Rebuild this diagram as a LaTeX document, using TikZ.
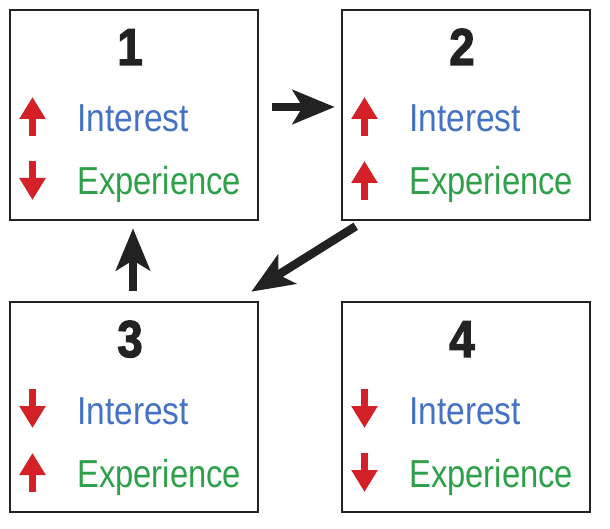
\documentclass[tikz,border=0pt]{standalone}
\usepackage{fontspec}
\setmainfont{Liberation Sans}
\newfontfamily\numfont[FakeBold=2.5]{Liberation Sans Bold}
\usetikzlibrary{arrows.meta}
\definecolor{intblue}{HTML}{4472C4}
\definecolor{expgreen}{HTML}{2EA04A}
\definecolor{arrred}{HTML}{D42027}
\definecolor{boxgray}{HTML}{222222}
\tikzset{
  panel/.style={draw=boxgray, line width=2.6pt, minimum width=248pt, minimum height=210pt, inner sep=0pt},
  numlabel/.style={anchor=base, inner sep=0pt, font=\fontsize{52}{52}\numfont, text=boxgray, xscale=0.88},
  inttext/.style={anchor=base west, inner sep=0pt, font=\fontsize{39}{39}\selectfont, text=intblue, xscale=0.86},
  exptext/.style={anchor=base west, inner sep=0pt, font=\fontsize{39}{39}\selectfont, text=expgreen, xscale=0.84},
  redarr/.style={draw=arrred, line width=7pt, -{Triangle[length=22pt, width=25pt]}},
  bigarrow/.style={draw=boxgray, line width=8.5pt, -{Stealth[length=42pt, width=34pt, inset=10pt]}}
}
\begin{document}
\begin{tikzpicture}[x=1pt, y=-1pt]
\useasboundingbox (0,0) rectangle (610,529);
% panels
\node[panel] (b1) at (134,115) {};
\node[panel] (b2) at (466,115) {};
\node[panel] (b3) at (134,407) {};
\node[panel] (b4) at (466,407) {};
% numbers
\node[numlabel] (n1) at (130,65) {1};
\node[numlabel] (n2) at (462,65) {2};
\node[numlabel] (n3) at (130,357) {3};
\node[numlabel] (n4) at (462,357) {4};
% texts
\node[inttext] (i1) at (77,132) {Interest};
\node[exptext] (e1) at (77,195) {Experience};
\node[inttext] (i2) at (409,132) {Interest};
\node[exptext] (e2) at (409,195) {Experience};
\node[inttext] (i3) at (77,424) {Interest};
\node[exptext] (e3) at (77,487) {Experience};
\node[inttext] (i4) at (409,424) {Interest};
\node[exptext] (e4) at (409,487) {Experience};
% red indicator arrows (up / down)
\draw[redarr] (32.5,136) -- (32.5,97);
\draw[redarr] (32.5,161) -- (32.5,200);
\draw[redarr] (364.5,136) -- (364.5,97);
\draw[redarr] (364.5,200) -- (364.5,161);
\draw[redarr] (32.5,389) -- (32.5,428);
\draw[redarr] (32.5,492) -- (32.5,453);
\draw[redarr] (364.5,389) -- (364.5,428);
\draw[redarr] (364.5,453) -- (364.5,492);
% connectors
\draw[bigarrow] ([shift={(13,-8)}]b1.east) -- ([shift={(-6,-8)}]b2.west);
\draw[bigarrow] ([shift={(15,5)}]b2.south west) -- ([shift={(-8,-9)}]b3.north east);
\draw[bigarrow] ([shift={(-1,-10)}]b3.north) -- ([shift={(-1,7)}]b1.south);
\end{tikzpicture}
\end{document}
